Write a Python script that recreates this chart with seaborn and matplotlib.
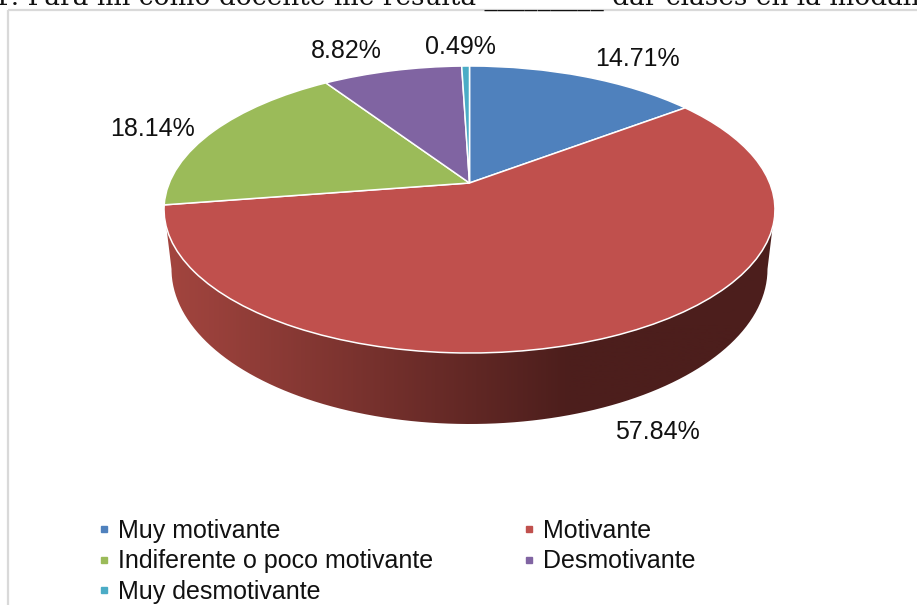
import numpy as np
import matplotlib
matplotlib.use("agg")
import matplotlib.pyplot as plt
import seaborn as sns
from matplotlib.lines import Line2D
from matplotlib.patches import PathPatch, Rectangle
from matplotlib.path import Path
from matplotlib.transforms import Transform

categories = ["Muy motivante", "Motivante", "Indiferente o poco motivante", "Desmotivante", "Muy desmotivante"]
values = [14.71, 57.84, 18.14, 8.82, 0.49]
colors = ["#4f81bd", "#c0504d", "#9bbb59", "#8064a2", "#4bacc6"]
label_xy = [(637, 59), (657, 432), (152, 129), (346, 51), (460, 47)]
heading = "1. Para mí como docente me resulta _________ dar clases en la modalidad"


# perspective of the tilted disc: unit circle -> pixel positions
class TiltTransform(Transform):
    input_dims = 2
    output_dims = 2

    def __init__(self, cx, cy, b, a, k):
        super().__init__()
        self.cx, self.cy, self.b, self.a, self.k = cx, cy, b, a, k

    def transform_non_affine(self, xy):
        xy = np.asarray(xy, dtype=float)
        d = 1 + self.k * xy[:, 1]
        return np.column_stack((self.cx + self.b * xy[:, 0] / d, self.cy - self.a * xy[:, 1] / d))


sns.set_theme(style="white")
plt.rcParams["font.family"] = ["Liberation Sans", "DejaVu Sans"]

fig = plt.figure(figsize=(9.17, 6.05), dpi=100)
ax = fig.add_axes([0, 0, 1, 1])

tilt = TiltTransform(469.5, 183, 300.2, 138.6, 0.1847)
wedges, _ = ax.pie(values, colors=sns.color_palette(colors), startangle=90, counterclock=False,
                   wedgeprops=dict(edgecolor="white", linewidth=1.1))
for w in wedges:
    w.set_transform(tilt + ax.transData)
    w.set_zorder(3)

# side wall of the pie, only the red slice shows there
t = np.linspace(0, np.pi, 200)
wall_x = 469.5 + 298 * np.cos(t)
wall_y = 269 + 155 * np.sin(t)
wall_pts = np.vstack(([(772.5, 228)], np.column_stack((wall_x, wall_y)), [(166.5, 228)], [(772.5, 228)]))
wall = PathPatch(Path(wall_pts), facecolor="none", edgecolor="none", transform=ax.transData)
ax.add_patch(wall)
xs = np.arange(166, 774)
shade = np.clip((xs - 166) / (570 - 166), 0, 1)[None, :]
wall_cmap = sns.blend_palette(["#a3453f", "#4c1e1c"], as_cmap=True)
img = ax.imshow(shade, cmap=wall_cmap, extent=(166, 773, 424.5, 228), aspect="auto", zorder=2)
img.set_clip_path(wall)

for v, (x, y) in zip(values, label_xy):
    ax.text(x, y, f"{v:.2f}%", fontsize=18, color="#111111", ha="center", va="center")

ax.add_patch(Rectangle((8, 10), 1200, 1200, fill=False, edgecolor="#d9d9d9", linewidth=1.6))
ax.text(-6, 5, heading, family="DejaVu Serif", fontsize=19, color="#111111", ha="left", va="baseline")

order = [0, 2, 4, 1, 3]
handles = [Line2D([], [], linestyle="", marker="s", markersize=4.8, color=colors[i]) for i in order]
ax.legend(handles, [categories[i] for i in order], ncol=2, frameon=False, fontsize=18,
          loc="upper left", bbox_to_anchor=(91.5, 519), bbox_transform=ax.transData,
          borderaxespad=0, borderpad=0, handlelength=1.0, handletextpad=0.04,
          labelspacing=0.25, columnspacing=3.36, labelcolor="#111111")

ax.set_xlim(0, 917)
ax.set_ylim(605, 0)
ax.set_aspect("auto")
ax.axis("off")

fig.savefig("out.png", dpi=100)
